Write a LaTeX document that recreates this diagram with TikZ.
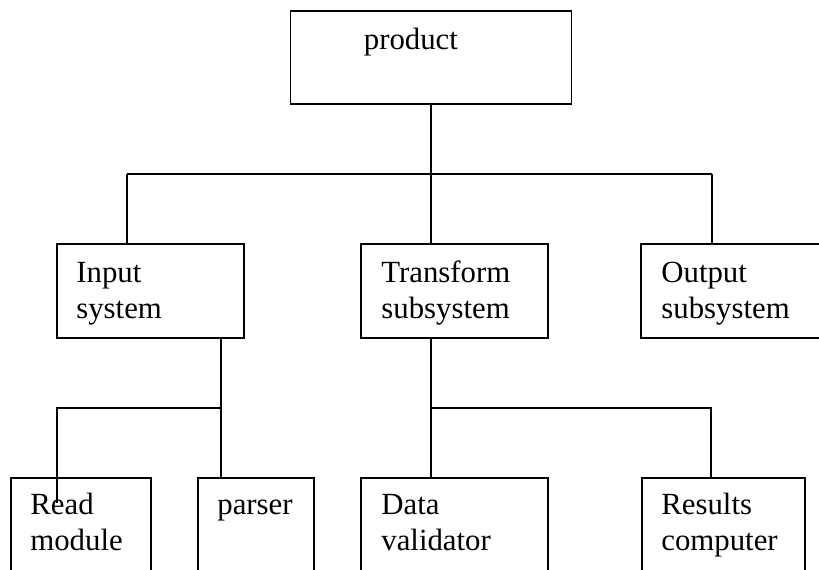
\documentclass[tikz,border=0pt]{standalone}
\usepackage{fontspec}
\setmainfont{Liberation Serif}
\tikzset{
  box/.style={draw,line width=1.5pt,inner sep=0pt,minimum height=2.82cm},
  lbl/.style={anchor=north west,inner sep=0pt,align=left,font=\fontsize{26.3}{31}\selectfont},
  link/.style={line width=1.5pt}
}
\begin{document}
\begin{tikzpicture}[x=0.03cm,y=-0.03cm]
\clip (0,0) rectangle (819,570);
% top level
\node[box,minimum width=8.43cm,minimum height=2.79cm] (product) at (431,57.5) {};
\node[lbl] (productlbl) at ([shift={(74,13.6)}]product.north west) {\strut product};
% subsystems
\node[box,minimum width=5.61cm] (input) at (150.5,291) {};
\node[box,minimum width=5.61cm] (transform) at (454.5,291) {};
\node[box,minimum width=5.61cm] (output) at (734.5,291) {};
\node[lbl] (inputlbl) at ([shift={(20,13.6)}]input.north west) {\strut Input\\system};
\node[lbl] (transformlbl) at ([shift={(21,13.6)}]transform.north west) {\strut Transform\\subsystem};
\node[lbl] (outputlbl) at ([shift={(21,13.6)}]output.north west) {\strut Output\\subsystem};
% modules
\node[box,minimum width=4.2cm] (read) at (81,525) {};
\node[box,minimum width=3.48cm] (parser) at (256,525) {};
\node[box,minimum width=5.61cm] (data) at (454.5,525) {};
\node[box,minimum width=4.89cm] (results) at (723.5,525) {};
\node[lbl] (readlbl) at ([shift={(20,11.6)}]read.north west) {\strut Read\\module};
\node[lbl] (parserlbl) at ([shift={(20,11.6)}]parser.north west) {\strut parser};
\node[lbl] (datalbl) at ([shift={(21,11.6)}]data.north west) {\strut Data\\validator};
\node[lbl] (resultslbl) at ([shift={(20,11.6)}]results.north west) {\strut Results\\computer};
% connectors
\coordinate (top) at (431,174);
\coordinate (topl) at (127,174);
\coordinate (topr) at (712,174);
\draw[link] (product.south) -- (top);
\draw[link] (topl) -- (topr);
\draw[link] (topl) -- (topl |- input.north);
\draw[link] (top) -- (top |- transform.north);
\draw[link] (topr) -- (topr |- output.north);
\coordinate (inbus) at (221,408);
\coordinate (inl) at (57,408);
\coordinate (readend) at (57,503);
\draw[link] (inbus |- input.south) -- (inbus) -- (inl) -- (readend);
\draw[link] (inbus) -- (inbus |- parser.north);
\coordinate (trbus) at (431,408);
\coordinate (trr) at (711,408);
\draw[link] (trbus |- transform.south) -- (trbus) -- (trr) -- (trr |- results.north);
\draw[link] (trbus) -- (trbus |- data.north);
\end{tikzpicture}
\end{document}
